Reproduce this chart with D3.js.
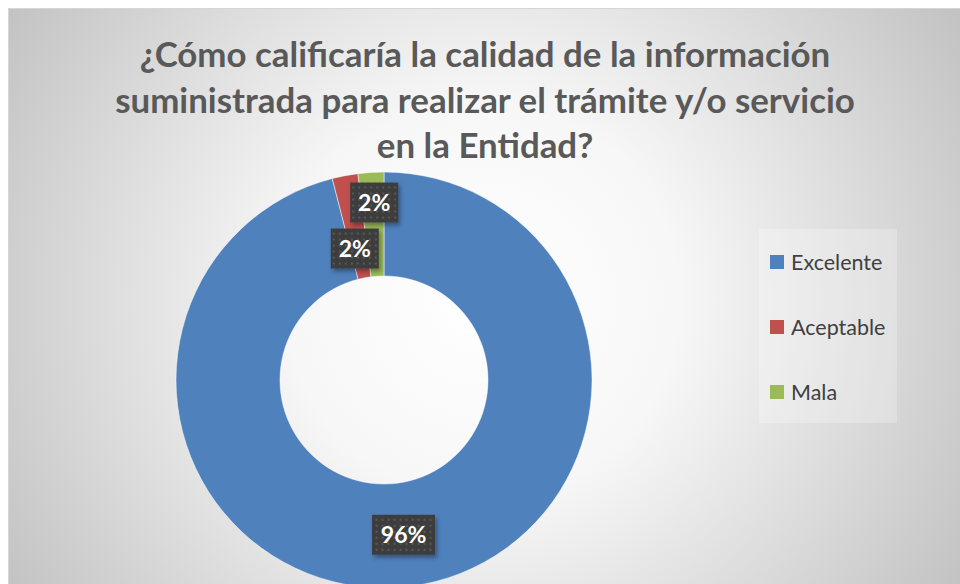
<!DOCTYPE html>
<html>
<head>
<meta charset="utf-8">
<script src="https://cdn.jsdelivr.net/npm/d3@7"></script>
<style>
  html, body { margin: 0; padding: 0; background: #fff; }
  svg { display: block; }
</style>
</head>
<body>
<div id="chart"></div>
<script>
// Data
const titleLines = [
  "¿Cómo calificaría la calidad de la información",
  "suministrada para realizar el trámite y/o servicio",
  "en la Entidad?"
];
const categories = ["Excelente", "Aceptable", "Mala"];
const values = [96, 2, 2];
const colors = ["#4f81bd", "#c0504d", "#9bbb59"];

// Layout constants
const WIDTH = 960, HEIGHT = 584;
const FRAME = { x: 8, y: 8 };
const CENTER = { x: 384, y: 380 };
const OUTER_R = 208;
const INNER_R = 104;
const LEGEND = { x: 759, y: 229, w: 138, h: 194, itemX: 770, firstY: 262, step: 65, sq: 14 };

const svg = d3.select("#chart").append("svg")
  .attr("width", WIDTH)
  .attr("height", HEIGHT);

const defs = svg.append("defs");

// Background radial gradient
const grad = defs.append("radialGradient")
  .attr("id", "bg")
  .attr("gradientUnits", "userSpaceOnUse")
  .attr("cx", 482).attr("cy", 300).attr("r", 560);
grad.append("stop").attr("offset", "0%").attr("stop-color", "#ffffff");
grad.append("stop").attr("offset", "35%").attr("stop-color", "#f7f7f7");
grad.append("stop").attr("offset", "100%").attr("stop-color", "#c2c2c2");

// Dotted pattern for data labels
const pat = defs.append("pattern")
  .attr("id", "dots")
  .attr("patternUnits", "userSpaceOnUse")
  .attr("width", 6).attr("height", 6);
pat.append("rect").attr("width", 6).attr("height", 6).attr("fill", "#3d3d3d");
pat.append("rect").attr("x", 2).attr("y", 2).attr("width", 2).attr("height", 2).attr("fill", "#585858");

const shadow = defs.append("filter").attr("id", "shadow")
  .attr("x", "-20%").attr("y", "-20%").attr("width", "150%").attr("height", "150%");
shadow.append("feDropShadow")
  .attr("dx", 2).attr("dy", 3).attr("stdDeviation", 2)
  .attr("flood-color", "#000").attr("flood-opacity", 0.35);

// Chart area
svg.append("rect")
  .attr("x", FRAME.x + 0.5).attr("y", FRAME.y + 0.5)
  .attr("width", WIDTH).attr("height", HEIGHT + 20)
  .attr("fill", "url(#bg)")
  .attr("stroke", "#d6d6d6");

// Title
const title = svg.append("g")
  .attr("font-family", "Lato, 'Open Sans', sans-serif")
  .attr("font-weight", "bold")
  .attr("fill", "#595959")
  .attr("text-anchor", "middle");
const titleTexts = title.selectAll("text")
  .data(titleLines)
  .enter().append("text")
  .attr("x", 485)
  .attr("y", (d, i) => 67 + i * 45.5)
  .attr("font-size", 31)
  .text(d => d);
// fit the longest line to the reference width
const w2 = titleTexts.nodes()[1].getComputedTextLength();
const titleSize = 31 * 740 / w2;
titleTexts.attr("font-size", titleSize);

// Donut
const pie = d3.pie().sort(null).value(d => d.value);
const arcs = pie(categories.map((c, i) => ({ name: c, value: values[i], color: colors[i] })));
const arc = d3.arc().innerRadius(INNER_R).outerRadius(OUTER_R);
const labelArc = d3.arc().innerRadius((INNER_R + OUTER_R) / 2).outerRadius((INNER_R + OUTER_R) / 2);

const g = svg.append("g").attr("transform", `translate(${CENTER.x},${CENTER.y})`);
g.selectAll("path")
  .data(arcs)
  .enter().append("path")
  .attr("d", arc)
  .attr("fill", d => d.data.color)
  .attr("stroke", "#ffffff")
  .attr("stroke-width", 0.5);

// Data labels with simple collision avoidance
const total = d3.sum(values);
const labels = arcs.map(d => {
  const [x, y] = labelArc.centroid(d);
  const text = `${Math.round(d.data.value / total * 100)}%`;
  return { x, y, text, w: text.length > 2 ? 63 : 48, h: 40 };
});
for (let iter = 0; iter < 50; iter++) {
  for (let i = 0; i < labels.length; i++) {
    for (let j = i + 1; j < labels.length; j++) {
      const a = labels[i], b = labels[j];
      const ox = (a.w + b.w) / 2 - Math.abs(a.x - b.x);
      const oy = (a.h + b.h) / 2 + 6 - Math.abs(a.y - b.y);
      if (ox > 0 && oy > 0) {
        const dir = a.y >= b.y ? 1 : -1;
        a.y += dir * oy / 2;
        b.y -= dir * oy / 2;
      }
    }
  }
}

const lg = g.selectAll(".dlabel")
  .data(labels)
  .enter().append("g")
  .attr("class", "dlabel")
  .attr("transform", d => `translate(${d.x},${d.y})`);
lg.append("rect")
  .attr("x", d => -d.w / 2).attr("y", d => -d.h / 2)
  .attr("width", d => d.w).attr("height", d => d.h)
  .attr("fill", "url(#dots)")
  .attr("filter", "url(#shadow)");
lg.append("text")
  .attr("text-anchor", "middle")
  .attr("dy", "0.36em")
  .attr("font-family", "Lato, 'Open Sans', sans-serif")
  .attr("font-weight", "bold")
  .attr("font-size", 23)
  .attr("fill", "#ffffff")
  .text(d => d.text);

// Legend
const legend = svg.append("g");
legend.append("rect")
  .attr("x", LEGEND.x).attr("y", LEGEND.y)
  .attr("width", LEGEND.w).attr("height", LEGEND.h)
  .attr("fill", "#ffffff").attr("fill-opacity", 0.25);
const items = legend.selectAll(".item")
  .data(categories)
  .enter().append("g")
  .attr("class", "item")
  .attr("transform", (d, i) => `translate(${LEGEND.itemX},${LEGEND.firstY + i * LEGEND.step})`);
items.append("rect")
  .attr("x", 0).attr("y", -LEGEND.sq / 2)
  .attr("width", LEGEND.sq).attr("height", LEGEND.sq)
  .attr("fill", (d, i) => colors[i]);
items.append("text")
  .attr("x", 21)
  .attr("dy", "0.35em")
  .attr("font-family", "Lato, 'Open Sans', sans-serif")
  .attr("font-size", 21.5)
  .attr("fill", "#404040")
  .text(d => d);
</script>
</body>
</html>
